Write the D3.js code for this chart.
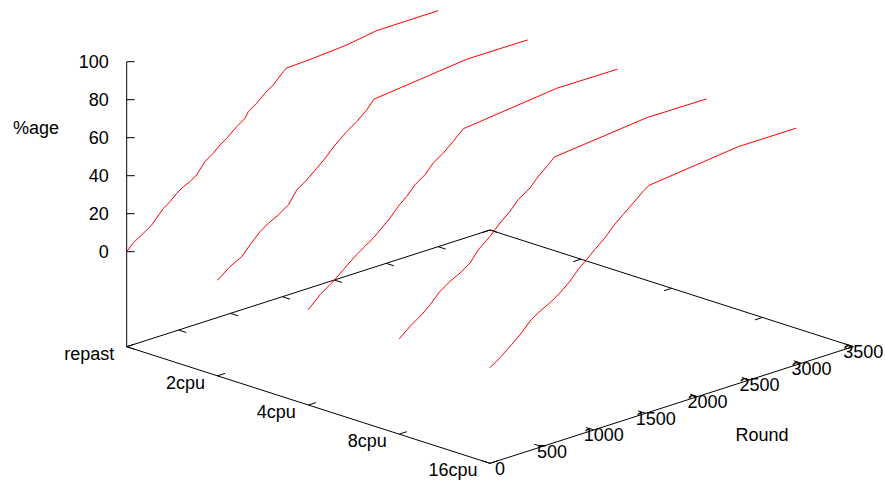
<!DOCTYPE html>
<html>
<head>
<meta charset="utf-8">
<script src="https://cdn.jsdelivr.net/npm/d3@7"></script>
<style>
  html, body { margin: 0; padding: 0; background: #fff; }
  svg text { font-family: "Liberation Sans", Arial, Helvetica, sans-serif; fill: #000; }
</style>
</head>
<body>
<svg id="chart" width="885" height="483"></svg>
<script>
// Categories (depth axis), tick values and per-series measurements
const categories = ["repast", "2cpu", "4cpu", "8cpu", "16cpu"];
const roundTicks = [0, 500, 1000, 1500, 2000, 2500, 3000, 3500];
const pctTicks = [0, 20, 40, 60, 80, 100];

const repastRound = [0, 64, 176, 241, 353, 417, 482, 545, 610, 674, 754, 834, 899, 963, 1060, 1140, 1171, 1252, 1332, 1412, 1509, 1535, 1798, 2119, 2408, 3002];
const repastPct   = [0, 3.6, 7.4, 9.8, 16.6, 19.0, 22.3, 24.6, 26.2, 28.6, 34.2, 37.2, 40.4, 42.8, 47.2, 50.2, 53.2, 56.2, 60.0, 63.0, 68.3, 69.6, 70.3, 71.6, 74.1, 74.2];

const cpu2Round = [0, 120, 233, 313, 409, 489, 586, 682, 763, 859, 956, 1036, 1132, 1245, 1341, 1437, 1501, 1511, 2401, 2988];
const cpu2Pct   = [0.3, 5.4, 8.6, 13.4, 18.7, 21.7, 24.4, 27.9, 34.4, 38.0, 42.5, 46.3, 51.6, 56.7, 60.3, 64.7, 68.8, 69.2, 74.5, 74.4];

const cpu4Round = [0, 113, 241, 337, 434, 530, 626, 707, 787, 867, 948, 1028, 1124, 1204, 1301, 1397, 1493, 2393, 2977];
const cpu4Pct   = [0.2, 6.1, 10.9, 15.3, 19.7, 23.4, 26.9, 30.8, 34.6, 39.4, 43.2, 47.9, 51.5, 56.3, 59.8, 64.3, 69.2, 74.7, 74.5];

const cpu8Round = [0, 105, 218, 298, 394, 490, 587, 683, 763, 876, 972, 1068, 1148, 1261, 1341, 1437, 1495, 2385, 2963];
const cpu8Pct   = [0.1, 4.9, 9.1, 12.9, 18.3, 21.8, 24.5, 28.1, 33.7, 38.8, 44.1, 48.6, 53.3, 57.5, 62.2, 66.6, 69.6, 74.7, 74.5];

const cpu16Round = [0, 97, 210, 306, 386, 483, 579, 675, 772, 852, 933, 1012, 1109, 1189, 1285, 1382, 1478, 1533, 2393, 2949];
const cpu16Pct   = [0.3, 3.9, 8.9, 13.4, 18.1, 21.7, 24.4, 27.9, 32.4, 37.2, 41.0, 44.9, 49.3, 54.1, 58.5, 62.9, 67.4, 69.4, 74.7, 74.6];

const seriesRounds = [repastRound, cpu2Round, cpu4Round, cpu8Round, cpu16Round];
const seriesPct = [repastPct, cpu2Pct, cpu4Pct, cpu8Pct, cpu16Pct];

// Oblique frame: screen origin of (round 0, first category, base plane) and axis vectors
const origin = [126.7, 346.7];
const roundVec = [363.3, -116.7];
const catVec = [363.3, 116.6];
const zSpan = -285;          // screen height from base plane to top of z range
const zBase = -50;           // base plane sits half a range below z = 0
const tickLen = 8;

const sRound = d3.scaleLinear().domain([0, 3500]).range([0, 1]);
const sCat = d3.scalePoint().domain(categories).range([0, 1]);
const sZ = d3.scaleLinear().domain([zBase, 100]).range([0, 1]);

function proj(r, cat, z) {
  const u = sRound(r), v = sCat(cat), w = sZ(z);
  return [origin[0] + u * roundVec[0] + v * catVec[0],
          origin[1] + u * roundVec[1] + v * catVec[1] + w * zSpan];
}
function unit(v) { const l = Math.hypot(v[0], v[1]); return [v[0] / l, v[1] / l]; }
const uR = unit(roundVec), uC = unit(catVec);

const svg = d3.select("#chart");
svg.append("rect").attr("width", 885).attr("height", 483).attr("fill", "#fff");

const axes = svg.append("g").attr("stroke", "#000").attr("stroke-width", 1).attr("fill", "none");
const first = categories[0], last = categories[categories.length - 1];
const rMax = sRound.domain()[1];

// base plane border
const corners = [proj(0, first, zBase), proj(0, last, zBase), proj(rMax, last, zBase), proj(rMax, first, zBase)];
axes.append("path").attr("d", d3.line()(corners) + "Z");

// vertical z axis
axes.append("path").attr("d", d3.line()([proj(0, first, zBase), proj(0, first, 100)]));
pctTicks.forEach(t => {
  const p = proj(0, first, t);
  axes.append("path").attr("d", d3.line()([p, [p[0] + tickLen, p[1]]]));
});

// category ticks (front edge) and mirrored ticks (back edge)
categories.forEach(c => {
  const p = proj(0, c, zBase);
  axes.append("path").attr("d", d3.line()([p, [p[0] + uR[0] * tickLen, p[1] + uR[1] * tickLen]]));
  const q = proj(rMax, c, zBase);
  axes.append("path").attr("d", d3.line()([q, [q[0] - uR[0] * tickLen, q[1] - uR[1] * tickLen]]));
});

// round ticks (front edge) and mirrored ticks (back edge)
roundTicks.forEach(r => {
  const p = proj(r, last, zBase);
  axes.append("path").attr("d", d3.line()([p, [p[0] - uC[0] * tickLen, p[1] - uC[1] * tickLen]]));
  const q = proj(r, first, zBase);
  axes.append("path").attr("d", d3.line()([q, [q[0] + uC[0] * tickLen, q[1] + uC[1] * tickLen]]));
});

// data lines
const lines = svg.append("g").attr("stroke", "#ff0000").attr("stroke-width", 1).attr("fill", "none");
categories.forEach((c, i) => {
  const pts = seriesRounds[i].map((r, j) => proj(r, c, seriesPct[i][j]));
  lines.append("path").attr("d", d3.line()(pts));
});

// labels
const fs = 18;
const labels = svg.append("g").attr("font-size", fs);
pctTicks.forEach(t => {
  const p = proj(0, first, t);
  labels.append("text").attr("x", p[0] - 18).attr("y", p[1]).attr("text-anchor", "end")
    .attr("dominant-baseline", "central").text(t);
});
labels.append("text").attr("x", 36).attr("y", 128).attr("text-anchor", "middle")
  .attr("dominant-baseline", "central").text("%age");

categories.forEach(c => {
  const p = proj(0, c, zBase);
  labels.append("text").attr("x", p[0] - 12.5).attr("y", p[1] + 7).attr("text-anchor", "end")
    .attr("dominant-baseline", "central").text(c);
});

roundTicks.forEach(r => {
  const p = proj(r, last, zBase);
  labels.append("text").attr("x", p[0] + 10).attr("y", p[1] + 5.5).attr("text-anchor", "middle")
    .attr("dominant-baseline", "central").text(r);
});
labels.append("text").attr("x", 762).attr("y", 435).attr("text-anchor", "middle")
  .attr("dominant-baseline", "central").text("Round");
</script>
</body>
</html>
